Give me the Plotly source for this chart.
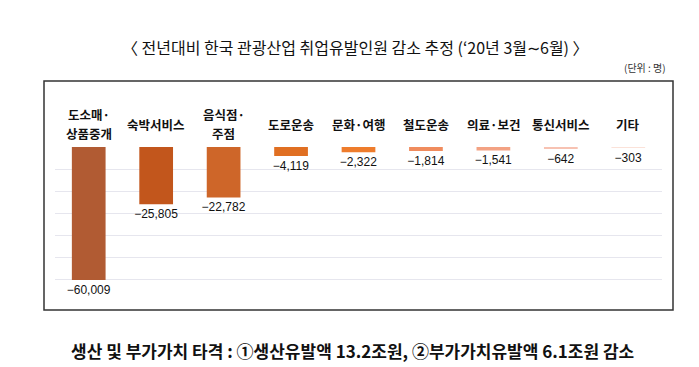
import plotly.graph_objects as go

categories = ["도소매·<br>상품중개", "숙박서비스", "음식점·<br>주점", "도로운송", "문화·여행",
              "철도운송", "의료·보건", "통신서비스", "기타"]
values = [-60009, -25805, -22782, -4119, -2322, -1814, -1541, -642, -303]
value_labels = ["−60,009", "−25,805", "−22,782", "−4,119", "−2,322", "−1,814", "−1,541", "−642", "−303"]
bar_colors = ["#B15B33", "#C2561C", "#CE6629", "#E06F22", "#EE7C2C",
              "#F08C5E", "#F3A283", "#F7C2B2", "#FBE2D9"]
y_ticks = [0, -10000, -20000, -30000, -40000, -50000, -60000, -70000]

title_text = "〈 전년대비 한국 관광산업 취업유발인원 감소 추정 (‘20년 3월∼6월) 〉"
unit_text = "(단위 : 명)"
bottom_text = "생산 및 부가가치 타격 : ①생산유발액 13.2조원, ②부가가치유발액 6.1조원 감소"

W, H = 699, 367
L, R, T, B = 55, 662, 147, 302  # plot area in pixels


def px(x):
    return (x - L) / (R - L)


def py(y):
    return (B - y) / (B - T)


KFONT = "Noto Sans CJK KR"
NFONT = "Liberation Sans Narrow, Arial Narrow, Liberation Sans, sans-serif"

fig = go.Figure()
fig.add_trace(go.Bar(
    x=list(range(len(categories))),
    y=values,
    marker=dict(color=bar_colors, line=dict(width=0)),
    text=value_labels,
    textposition="outside",
    constraintext="none",
    textfont=dict(family=NFONT, size=12, color="#111111"),
    cliponaxis=False,
    hoverinfo="skip",
))

annotations = []
for i, c in enumerate(categories):
    lines = c.split("<br>")
    n = len(lines)
    for j, line in enumerate(lines):
        annotations.append(dict(
            x=i, xref="x", y=py(124 + (j - (n - 1) / 2) * 18), yref="paper",
            text="<b>" + line + "</b>",
            showarrow=False, xanchor="center", yanchor="middle",
            font=dict(family=KFONT, size=12.5, color="#111111"), align="center",
        ))
annotations.append(dict(
    x=px(355), xref="paper", y=py(47), yref="paper", text=title_text, showarrow=False,
    xanchor="center", yanchor="middle", font=dict(family=KFONT, size=16, color="#111111"),
))
annotations.append(dict(
    x=px(668), xref="paper", y=py(68), yref="paper", text=unit_text, showarrow=False,
    xanchor="right", yanchor="middle", font=dict(family=KFONT, size=10, color="#333333"),
))
annotations.append(dict(
    x=px(352), xref="paper", y=py(350), yref="paper", text="<b>" + bottom_text + "</b>",
    showarrow=False, xanchor="center", yanchor="middle",
    font=dict(family=KFONT, size=17, color="#111111"),
))

fig.update_layout(
    width=W, height=H,
    margin=dict(l=L, r=W - R, t=T, b=H - B, pad=0),
    paper_bgcolor="white", plot_bgcolor="white",
    showlegend=False,
    bargap=0.5,
    xaxis=dict(range=[-0.5, len(categories) - 0.5], showticklabels=False, showgrid=False,
               zeroline=False, showline=False, ticks=""),
    yaxis=dict(range=[-70000, 0], tickvals=y_ticks, showticklabels=False, showgrid=True,
               gridcolor="#E6E6EE", gridwidth=1, zeroline=False, showline=False, ticks=""),
    annotations=annotations,
    shapes=[dict(type="rect", xref="paper", yref="paper",
                 x0=px(44), x1=px(673), y0=py(310), y1=py(81),
                 line=dict(color="#333333", width=1.5), layer="below")],
)

fig.write_html("out.html", config={"displayModeBar": False},
               post_script="document.body.style.margin='0';document.body.style.overflow='hidden';")
